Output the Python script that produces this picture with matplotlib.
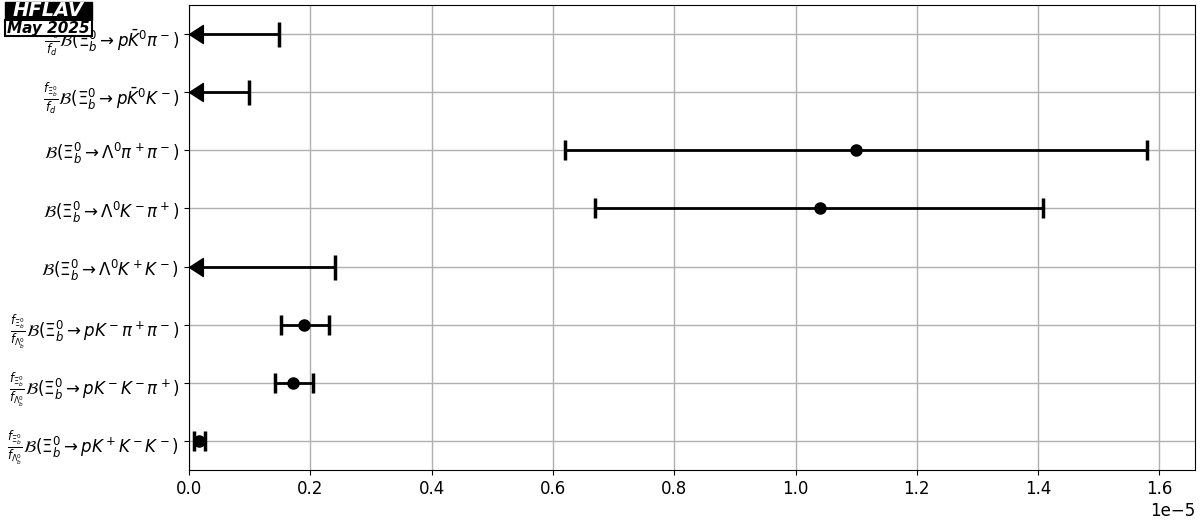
import matplotlib
matplotlib.use("Agg")
import matplotlib.pyplot as plt
from matplotlib.path import Path
from matplotlib.patches import Rectangle
import numpy as np

# decay labels, top to bottom
labels = [
    r"$\frac{f_{\Xi_b^0}}{f_d}\mathcal{B}(\Xi_b^0 \to p\bar{K}^0\pi^-)$",
    r"$\frac{f_{\Xi_b^0}}{f_d}\mathcal{B}(\Xi_b^0 \to p\bar{K}^0K^-)$",
    r"$\mathcal{B}(\Xi_b^0 \to \Lambda^0\pi^+\pi^-)$",
    r"$\mathcal{B}(\Xi_b^0 \to \Lambda^0K^-\pi^+)$",
    r"$\mathcal{B}(\Xi_b^0 \to \Lambda^0K^+K^-)$",
    r"$\frac{f_{\Xi_b^0}}{f_{\Lambda_b^0}}\mathcal{B}(\Xi_b^0 \to pK^-\pi^+\pi^-)$",
    r"$\frac{f_{\Xi_b^0}}{f_{\Lambda_b^0}}\mathcal{B}(\Xi_b^0 \to pK^-K^-\pi^+)$",
    r"$\frac{f_{\Xi_b^0}}{f_{\Lambda_b^0}}\mathcal{B}(\Xi_b^0 \to pK^+K^-K^-)$",
]
# central values (nan for upper limits), lower / upper bounds
central = [np.nan, np.nan, 1.10e-5, 1.04e-5, np.nan, 0.190e-5, 0.171e-5, 0.0165e-5]
lower = [np.nan, np.nan, 0.62e-5, 0.67e-5, np.nan, 0.152e-5, 0.142e-5, 0.008e-5]
upper = [0.148e-5, 0.099e-5, 1.58e-5, 1.408e-5, 0.240e-5, 0.231e-5, 0.204e-5, 0.026e-5]

# left arrow with its tip at the data point
arrow = Path([(0, 0), (1, 0.65), (1, -0.65), (0, 0)],
             [Path.MOVETO, Path.LINETO, Path.LINETO, Path.CLOSEPOLY])

fig = plt.figure(figsize=(12, 5.28), dpi=100)
ax = fig.add_axes([0.1575, 0.1098, 0.8385, 0.8807])

n = len(labels)
ys = np.arange(n)[::-1]
for y, c, lo, hi in zip(ys, central, lower, upper):
    if np.isnan(c):
        # upper limit
        ax.plot([0, hi], [y, y], color='black', lw=2, zorder=3)
        ax.plot(hi, y, marker='|', ms=18, mew=2.5, color='black', zorder=3)
        ax.plot(0, y, marker=arrow, ms=20, color='black', zorder=4, clip_on=False)
    else:
        ax.errorbar(c, y, xerr=[[c - lo], [hi - c]], fmt='o', color='black',
                    ms=8, elinewidth=2, capsize=7, capthick=2.5, zorder=3)

ax.set_yticks(ys)
ax.set_yticklabels(labels, fontsize=12)
ax.tick_params(axis='x', labelsize=12)
ax.set_xlim(0, 1.659e-5)
ax.set_ylim(-0.5, n - 0.5)
ax.grid(True, color='#b0b0b0', lw=1)
ax.set_axisbelow(True)
ax.xaxis.get_offset_text().set_fontsize(12)

# HFLAV stamp
x0, w = 5 / 1200, 87 / 1200
fig.patches.append(Rectangle((x0, 1 - 20 / 528), w, 18 / 528, transform=fig.transFigure,
                             facecolor='black', edgecolor='black', lw=1, zorder=10))
fig.patches.append(Rectangle((x0, 1 - 36 / 528), w, 16 / 528, transform=fig.transFigure,
                             facecolor='white', edgecolor='black', lw=1.5, zorder=10))
fig.text(x0 + w / 2, 1 - 11 / 528, "HFLAV", fontsize=14, fontweight='bold',
         fontstyle='italic', color='white', ha='center', va='center', zorder=11)
fig.text(x0 + w / 2, 1 - 28.5 / 528, "May 2025", fontsize=11, fontweight='bold',
         fontstyle='italic', color='black', ha='center', va='center', zorder=11)

fig.savefig("out.png", dpi=100)
